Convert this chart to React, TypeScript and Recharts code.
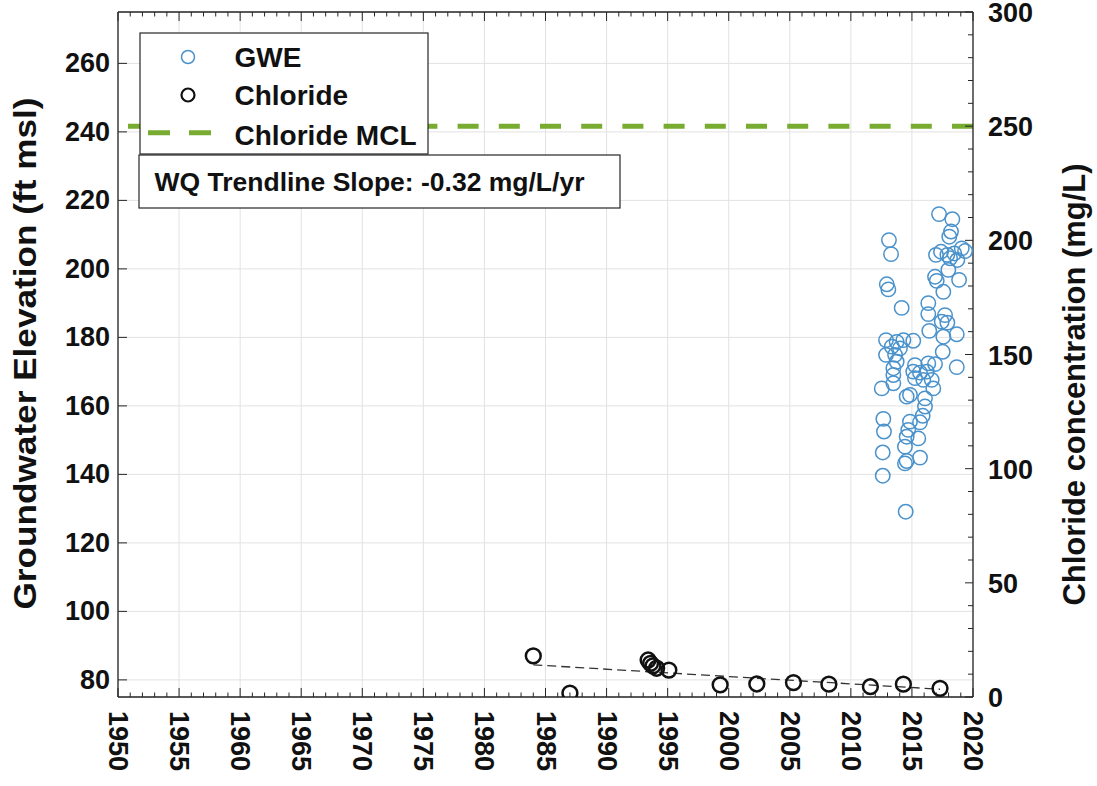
import React from 'react';
import { ComposedChart, Scatter, XAxis, YAxis, CartesianGrid, ReferenceLine, Legend } from 'recharts';

const FONT = "'Liberation Sans', Arial, Helvetica, sans-serif";

const xMajorTicks = [1950, 1955, 1960, 1965, 1970, 1975, 1980, 1985, 1990, 1995, 2000, 2005, 2010, 2015, 2020];
const xAllTicks = [
  1950, 1951, 1952, 1953, 1954, 1955, 1956, 1957, 1958, 1959,
  1960, 1961, 1962, 1963, 1964, 1965, 1966, 1967, 1968, 1969,
  1970, 1971, 1972, 1973, 1974, 1975, 1976, 1977, 1978, 1979,
  1980, 1981, 1982, 1983, 1984, 1985, 1986, 1987, 1988, 1989,
  1990, 1991, 1992, 1993, 1994, 1995, 1996, 1997, 1998, 1999,
  2000, 2001, 2002, 2003, 2004, 2005, 2006, 2007, 2008, 2009,
  2010, 2011, 2012, 2013, 2014, 2015, 2016, 2017, 2018, 2019, 2020,
];
const leftTicks = [80, 100, 120, 140, 160, 180, 200, 220, 240, 260];
const rightTicks = [0, 10, 20, 30, 40, 50, 60, 70, 80, 90, 100, 110, 120, 130, 140, 150, 160, 170, 180, 190, 200, 210, 220, 230, 240, 250, 260, 270, 280, 290, 300];
const rightLabelTicks = [0, 50, 100, 150, 200, 250, 300];

const gweData = [
  { year: 2017.22, v: 216.0 }, { year: 2018.31, v: 214.5 }, { year: 2013.12, v: 208.4 }, { year: 2013.29, v: 204.3 },
  { year: 2018.2, v: 210.9 }, { year: 2018.06, v: 209.4 }, { year: 2019.08, v: 206.0 }, { year: 2019.35, v: 205.2 },
  { year: 2016.97, v: 204.1 }, { year: 2017.38, v: 205.0 }, { year: 2017.9, v: 204.1 }, { year: 2018.47, v: 204.5 },
  { year: 2018.12, v: 203.1 }, { year: 2018.72, v: 202.6 }, { year: 2017.98, v: 199.7 }, { year: 2016.89, v: 197.7 },
  { year: 2017.03, v: 196.5 }, { year: 2018.86, v: 196.8 }, { year: 2017.57, v: 193.3 }, { year: 2012.94, v: 195.5 },
  { year: 2013.07, v: 194.0 }, { year: 2016.34, v: 190.0 }, { year: 2014.16, v: 188.6 }, { year: 2016.34, v: 186.8 },
  { year: 2017.71, v: 186.5 }, { year: 2017.44, v: 184.6 }, { year: 2017.9, v: 184.3 }, { year: 2016.42, v: 181.9 },
  { year: 2017.57, v: 180.2 }, { year: 2018.67, v: 180.9 }, { year: 2012.88, v: 179.2 }, { year: 2013.75, v: 178.7 },
  { year: 2014.3, v: 179.2 }, { year: 2015.11, v: 179.0 }, { year: 2013.35, v: 177.3 }, { year: 2014.02, v: 176.8 },
  { year: 2012.88, v: 174.9 }, { year: 2013.62, v: 174.9 }, { year: 2017.52, v: 175.8 }, { year: 2013.75, v: 172.9 },
  { year: 2013.48, v: 171.0 }, { year: 2015.25, v: 171.9 }, { year: 2016.34, v: 172.4 }, { year: 2016.89, v: 172.2 },
  { year: 2018.67, v: 171.3 }, { year: 2015.11, v: 170.0 }, { year: 2015.66, v: 169.7 }, { year: 2016.21, v: 170.0 },
  { year: 2013.48, v: 169.0 }, { year: 2015.25, v: 168.1 }, { year: 2015.93, v: 167.6 }, { year: 2016.62, v: 167.6 },
  { year: 2013.48, v: 166.6 }, { year: 2012.53, v: 165.1 }, { year: 2016.75, v: 165.1 }, { year: 2014.57, v: 162.7 },
  { year: 2014.84, v: 163.2 }, { year: 2016.07, v: 162.2 }, { year: 2016.07, v: 159.8 }, { year: 2015.88, v: 157.1 },
  { year: 2012.66, v: 156.2 }, { year: 2014.84, v: 155.4 }, { year: 2015.66, v: 155.2 }, { year: 2012.71, v: 152.5 },
  { year: 2014.7, v: 153.0 }, { year: 2014.57, v: 151.0 }, { year: 2015.52, v: 150.5 }, { year: 2014.43, v: 148.1 },
  { year: 2012.61, v: 146.4 }, { year: 2015.66, v: 144.9 }, { year: 2014.57, v: 143.9 }, { year: 2014.43, v: 143.2 },
  { year: 2012.61, v: 139.6 }, { year: 2014.49, v: 129.1 },
];

const chlorideData = [
  { year: 1984.0, v: 18.0 }, { year: 1987.0, v: 1.7 }, { year: 1993.4, v: 16.2 }, { year: 1993.6, v: 14.7 },
  { year: 1993.8, v: 13.6 }, { year: 1994.1, v: 12.6 }, { year: 1995.1, v: 11.8 }, { year: 1999.3, v: 5.3 },
  { year: 2002.3, v: 5.7 }, { year: 2005.3, v: 6.3 }, { year: 2008.2, v: 5.6 }, { year: 2011.6, v: 4.5 },
  { year: 2014.3, v: 5.6 }, { year: 2017.3, v: 3.8 },
];

const trendData = [{ year: 1984.0, v: 14.1 }, { year: 2017.3, v: 3.4 }];
const mclValue = 250;
const slopeText = 'WQ Trendline Slope: -0.32 mg/L/yr';

const AXIS = '#262626';
const GREEN = '#77AC30';
const BLUE = '#4A92CC';

const tickText = { fontFamily: FONT, fontSize: 27, fontWeight: 700, fill: '#111' } as const;

const BottomTick = (props: any) => {
  const { x, y, payload } = props;
  const v = payload.value;
  const major = xMajorTicks.includes(v);
  return (
    <g>
      <line x1={x} x2={x} y1={y} y2={y - (major ? 9 : 4.5)} stroke={AXIS} strokeWidth={1} />
      {major && (
        <text x={x} y={y + 14} transform={`rotate(90 ${x} ${y + 14})`} textAnchor="start" dominantBaseline="central" {...tickText}>
          {v}
        </text>
      )}
    </g>
  );
};

const TopTick = (props: any) => {
  const { x, y, payload } = props;
  const major = xMajorTicks.includes(payload.value);
  return <line x1={x} x2={x} y1={y} y2={y + (major ? 9 : 4.5)} stroke={AXIS} strokeWidth={1} />;
};

const LeftTick = (props: any) => {
  const { x, y, payload } = props;
  return (
    <g>
      <line x1={x} x2={x + 9} y1={y} y2={y} stroke={AXIS} strokeWidth={1} />
      <text x={x - 8} y={y} textAnchor="end" dominantBaseline="central" {...tickText}>{payload.value}</text>
    </g>
  );
};

const RightTick = (props: any) => {
  const { x, y, payload } = props;
  const major = rightLabelTicks.includes(payload.value);
  return (
    <g>
      <line x1={x} x2={x - (major ? 8 : 5)} y1={y} y2={y} stroke={AXIS} strokeWidth={1} />
      {major && (
        <text x={x + 15} y={y + 1} textAnchor="start" dominantBaseline="central" {...tickText}>{payload.value}</text>
      )}
    </g>
  );
};

const LeftLabel = (props: any) => {
  const vb = props.viewBox || { x: 0, y: 12, width: 118, height: 685 };
  const cx = vb.x + 25;
  const cy = vb.y + vb.height / 2 - 1;
  return (
    <text x={cx} y={cy} transform={`rotate(-90 ${cx} ${cy})`} textAnchor="middle" dominantBaseline="central"
      fontFamily={FONT} fontSize={31} fontWeight={700} fill="#111" textLength={512} lengthAdjust="spacingAndGlyphs">
      Groundwater Elevation (ft msl)
    </text>
  );
};

const RightLabel = (props: any) => {
  const vb = props.viewBox || { x: 973, y: 12, width: 124, height: 685 };
  const cx = vb.x + 101;
  const cy = vb.y + vb.height / 2 + 30;
  return (
    <text x={cx} y={cy} transform={`rotate(-90 ${cx} ${cy})`} textAnchor="middle" dominantBaseline="central"
      fontFamily={FONT} fontSize={31} fontWeight={700} fill="#111" textLength={442} lengthAdjust="spacingAndGlyphs">
      Chloride concentration (mg/L)
    </text>
  );
};

const gweShape = (p: any) => (
  <circle cx={p.cx} cy={p.cy} r={7.2} fill="none" stroke={BLUE} strokeWidth={1.5} />
);
const chlShape = (p: any) => (
  <circle cx={p.cx} cy={p.cy} r={7.4} fill="none" stroke="#111" strokeWidth={2.5} />
);
const emptyShape = () => <g />;

const legendText = { fontFamily: FONT, fontSize: 28, fontWeight: 700, fill: '#111' } as const;

const renderLegend = () => (
  <svg width={486} height={180} style={{ overflow: 'visible', display: 'block' }}>
    <rect x={2} y={2} width={288} height={121} fill="#fff" stroke={AXIS} strokeWidth={1.2} />
    <circle cx={50} cy={26} r={6.5} fill="none" stroke={BLUE} strokeWidth={1.5} />
    <text x={96.5} y={26.5} dominantBaseline="central" {...legendText}>GWE</text>
    <circle cx={50} cy={64} r={6.5} fill="none" stroke="#111" strokeWidth={2.2} />
    <text x={96.5} y={64.5} dominantBaseline="central" {...legendText}>Chloride</text>
    <line x1={10} x2={73} y1={101.7} y2={101.7} stroke={GREEN} strokeWidth={5} strokeDasharray="22 19" />
    <text x={96.5} y={104.5} dominantBaseline="central" {...legendText}>Chloride MCL</text>
    <rect x={1} y={124} width={481} height={53} fill="#fff" stroke={AXIS} strokeWidth={1.2} />
    <text x={16.5} y={151} dominantBaseline="central" fontFamily={FONT} fontSize={26.5} fontWeight={700} fill="#111">
      {slopeText}
    </text>
  </svg>
);

export default function App() {
  return (
    <div style={{ position: 'absolute', left: 0, top: 0, width: 1097, height: 786, background: '#fff' }}>
      <ComposedChart width={1097} height={786} margin={{ top: 0, right: 0, bottom: 0, left: 0 }}>
        <CartesianGrid xAxisId="g" yAxisId="L" stroke="#e2e2e2" strokeWidth={1} />
        <XAxis xAxisId="b" type="number" dataKey="year" domain={[1950, 2020]} ticks={xAllTicks} interval={0}
          height={89} tick={BottomTick} tickLine={false} tickSize={0} tickMargin={0}
          axisLine={{ stroke: AXIS, strokeWidth: 1.3 }} allowDataOverflow />
        <XAxis xAxisId="t" orientation="top" type="number" dataKey="year" domain={[1950, 2020]} ticks={xAllTicks} interval={0}
          height={12} tick={TopTick} tickLine={false} tickSize={0} tickMargin={0}
          axisLine={{ stroke: AXIS, strokeWidth: 1.3 }} allowDataOverflow />
        <XAxis xAxisId="g" hide type="number" dataKey="year" domain={[1950, 2020]} ticks={xMajorTicks} interval={0} allowDataOverflow />
        <YAxis yAxisId="L" orientation="left" type="number" dataKey="v" domain={[75, 275]} ticks={leftTicks} interval={0}
          width={118} tick={LeftTick} tickLine={false} tickSize={0} tickMargin={0}
          axisLine={{ stroke: AXIS, strokeWidth: 1.3 }} allowDataOverflow label={{ content: LeftLabel }} />
        <YAxis yAxisId="R" orientation="right" type="number" dataKey="v" domain={[0, 300]} ticks={rightTicks} interval={0}
          width={124} tick={RightTick} tickLine={false} tickSize={0} tickMargin={0}
          axisLine={{ stroke: AXIS, strokeWidth: 1.3 }} allowDataOverflow label={{ content: RightLabel }} />
        <ReferenceLine xAxisId="b" yAxisId="R" y={mclValue} stroke={GREEN} strokeWidth={5} strokeDasharray="21 20.2" />
        <Scatter name="trend" xAxisId="b" yAxisId="R" data={trendData} shape={emptyShape}
          line={{ stroke: '#333', strokeWidth: 1.3, strokeDasharray: '9 5' }} isAnimationActive={false} legendType="none" />
        <Scatter name="GWE" xAxisId="b" yAxisId="L" data={gweData} shape={gweShape} isAnimationActive={false} />
        <Scatter name="Chloride" xAxisId="b" yAxisId="R" data={chlorideData} shape={chlShape} isAnimationActive={false} />
        <Legend content={renderLegend} layout="vertical" align="center" verticalAlign="middle"
          wrapperStyle={{ position: 'absolute', left: 138, top: 31, width: 486, height: 180 }} />
      </ComposedChart>
    </div>
  );
}
